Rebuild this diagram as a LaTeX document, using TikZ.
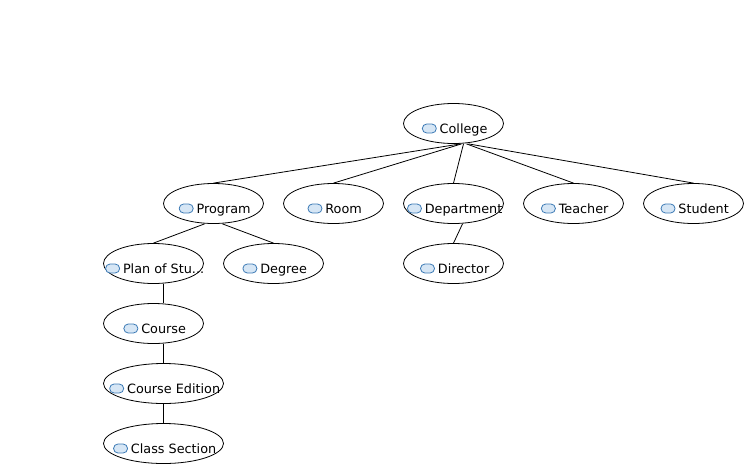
\documentclass[tikz,border=0pt]{standalone}
\usepackage{fontspec}
\setmainfont{DejaVu Sans}
\usetikzlibrary{shapes.geometric}
\definecolor{iconline}{HTML}{3C7AB5}
\definecolor{iconfill}{HTML}{D6E6F5}

\newcommand{\classicon}{\tikz[baseline=0pt]\draw[draw=iconline, fill=iconfill, line width=0.8pt, rounded corners=4.4pt] (0pt,0pt) rectangle (14pt,9pt);}

\begin{document}
\begin{tikzpicture}[x=1pt, y=1pt, node distance=60pt, line width=0.8pt,
                class node/.style={ellipse,draw,inner sep=0pt,minimum width=100pt,minimum height=40pt,
                    label={[font=\fontsize{12.8}{14}\selectfont, inner sep=0pt, text height=10pt, text depth=3pt, xshift=1.2pt, yshift=-6pt]center:\classicon\hspace{3pt}#1}},
                wide node/.style={class node=#1,minimum width=120pt}]

            \useasboundingbox (0,0) rectangle (754,-474);

            % Nodes
            \node[class node=College] (college) at (453.5,-123.5) {};
            \node[class node=Program] (program) [below of=college, xshift=-240pt, yshift=-20pt] {};
            \node[class node=Room] (room) [below of=college, xshift=-120pt, yshift=-20pt] {};
            \node[class node=Department] (department) [below of=college, yshift=-20pt] {};
            \node[class node=Teacher] (teacher) [below of=college, xshift=120pt, yshift=-20pt] {};
            \node[class node=Student] (student) [below of=college, xshift=240pt, yshift=-20pt] {};
            \node[class node=Plan of Stu...] (plan) [below of=program, xshift=-60pt] {};
            \node[class node=Degree] (degree) [below of=program, xshift=60pt] {};
            \node[class node=Director] (director) [below of=department] {};
            \node[class node=Course] (course) [below of=plan] {};
            \node[wide node=Course Edition] (edition) [below of=course, xshift=10pt] {};
            \node[wide node=Class Section] (section) [below of=edition] {};

            % Edges
            \path[draw]
            ([xshift=7pt]college.south) edge (program.north)
            ([xshift=8pt]college.south) edge (room.north)
            ([xshift=10pt]college.south) edge (department.north)
            ([xshift=13pt]college.south) edge (teacher.north)
            ([xshift=15pt]college.south) edge (student.north)
            ([xshift=-9pt]program.south) edge (plan.north)
            ([xshift=9pt]program.south) edge (degree.north)
            ([xshift=9pt]department.south) edge (director.north)
            ([xshift=10pt]plan.south) edge ([xshift=10pt]course.north)
            ([xshift=10pt]course.south) edge (edition.north)
            (edition.south) edge (section.north);

        \end{tikzpicture}
\end{document}
